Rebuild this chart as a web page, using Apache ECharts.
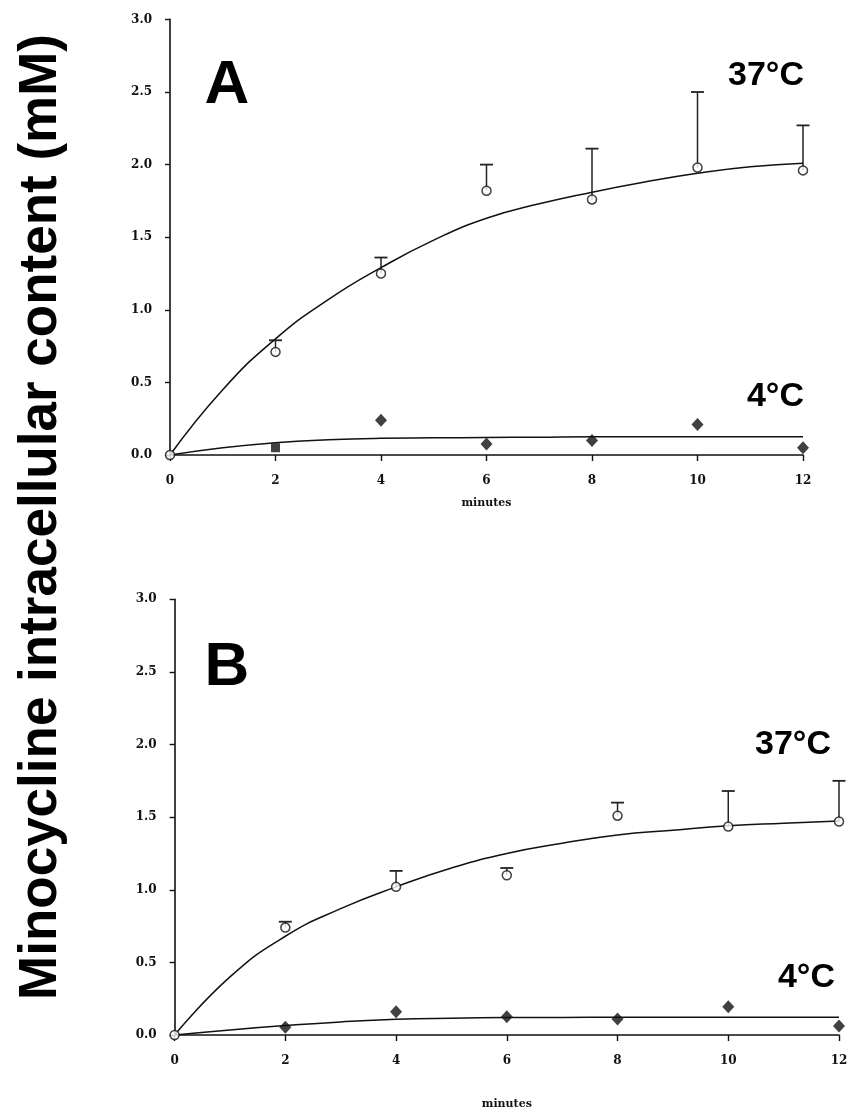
<!DOCTYPE html>
<html>
<head>
<meta charset="utf-8">
<script src="https://cdn.jsdelivr.net/npm/echarts@6/dist/echarts.min.js"></script>
<style>
html,body{margin:0;padding:0;background:#fff;}
#chart{width:853px;height:1116px;}
</style>
</head>
<body>
<div id="chart"></div>
<script>
// ---- data ----
const minutes = [0, 2, 4, 6, 8, 10, 12];
const yTicks = [0, 0.5, 1.0, 1.5, 2.0, 2.5, 3.0];

// Panel A, 37 °C (mean and mean+SD)
const a37Mean  = [0, 0.71, 1.25, 1.82, 1.76, 1.98, 1.96];
const a37Upper = [null, 0.79, 1.36, 2.00, 2.11, 2.50, 2.27];
// Panel A, 4 °C
const a4Mean   = [null, 0.05, 0.24, 0.075, 0.10, 0.21, 0.05];

// Panel B, 37 °C
const b37Mean  = [0, 0.74, 1.02, 1.10, 1.51, 1.435, 1.47];
const b37Upper = [null, 0.78, 1.13, 1.15, 1.60, 1.68, 1.75];
// Panel B, 4 °C
const b4Mean   = [null, 0.053, 0.16, 0.126, 0.11, 0.195, 0.062];

// fitted curves (one reading per minute)
const fitT   = [0, 1, 2, 3, 4, 5, 6, 7, 8, 9, 10, 11, 12];
const a37Fit = [0, 0.45, 0.80, 1.07, 1.29, 1.48, 1.63, 1.73, 1.81, 1.88, 1.94, 1.985, 2.01];
const b37Fit = [0, 0.40, 0.68, 0.87, 1.02, 1.15, 1.25, 1.32, 1.377, 1.41, 1.44, 1.458, 1.474];
const a4Fit  = [0, 0.05, 0.085, 0.105, 0.115, 0.118, 0.12, 0.123, 0.126, 0.126, 0.126, 0.126, 0.126];
const b4Fit  = [0, 0.035, 0.065, 0.09, 0.108, 0.116, 0.12, 0.121, 0.122, 0.122, 0.122, 0.122, 0.122];

const panelLabels = ['A', 'B'];
const tempLabels = ['37°C', '4°C'];
const xName = 'minutes';
const yTitle = 'Minocycline intracellular content (mM)';

// ---- build ----
const pairs = (xs, ys) => xs.map((x, i) => [x, ys[i]]).filter(p => p[1] != null);
const errData = (xs, m, u) => xs.map((x, i) => [x, m[i], u[i]]).filter(p => p[2] != null);

const INK = '#111';
const tickFont = { fontFamily: 'DejaVu Serif', fontWeight: 'bold', fontSize: 12, color: INK };

function xAx(gi, margin, nameGap) {
  return {
    type: 'value', gridIndex: gi, min: 0, max: 12, interval: 2,
    axisLine: { lineStyle: { color: INK, width: 1.6 } },
    axisTick: { show: true, inside: false, length: 6, lineStyle: { color: INK, width: 1.4 } },
    axisLabel: Object.assign({ margin: margin }, tickFont),
    splitLine: { show: false },
    name: xName, nameLocation: 'middle', nameGap: nameGap,
    nameTextStyle: { fontFamily: 'DejaVu Serif', fontWeight: 'bold', fontSize: 11, color: INK }
  };
}
function yAx(gi) {
  return {
    type: 'value', gridIndex: gi, min: 0, max: 3, interval: 0.5,
    axisLine: { show: true, lineStyle: { color: INK, width: 1.6 } },
    axisTick: { show: true, inside: false, length: 5, lineStyle: { color: INK, width: 1.4 } },
    axisLabel: Object.assign({ margin: 18, formatter: v => v.toFixed(1) }, tickFont),
    splitLine: { show: false }
  };
}

function errSeries(idx, data) {
  return {
    type: 'custom', xAxisIndex: idx, yAxisIndex: idx, z: 2,
    data: data,
    encode: { x: 0, y: [1, 2] },
    renderItem: function (params, api) {
      const x = api.value(0);
      const p0 = api.coord([x, api.value(1)]);
      const p1 = api.coord([x, api.value(2)]);
      const half = 6.5;
      return {
        type: 'group',
        children: [
          { type: 'line', shape: { x1: p0[0], y1: p0[1], x2: p1[0], y2: p1[1] }, style: { stroke: '#222', lineWidth: 1.5 } },
          { type: 'line', shape: { x1: p1[0] - half, y1: p1[1], x2: p1[0] + half, y2: p1[1] }, style: { stroke: '#222', lineWidth: 1.8 } }
        ]
      };
    }
  };
}
function fitSeries(idx, xs, ys) {
  return {
    type: 'line', xAxisIndex: idx, yAxisIndex: idx, z: 3,
    data: pairs(xs, ys), showSymbol: false, symbol: 'none',
    smooth: 0.5,
    lineStyle: { color: INK, width: 1.5 }, silent: true
  };
}
function openSeries(idx, data) {
  return {
    type: 'scatter', xAxisIndex: idx, yAxisIndex: idx, z: 5,
    data: data, symbol: 'circle', symbolSize: 9,
    itemStyle: { color: '#fff', borderColor: INK, borderWidth: 1.5 }
  };
}
function filledSeries(idx, data, squareAt) {
  return {
    type: 'scatter', xAxisIndex: idx, yAxisIndex: idx, z: 5,
    data: data.map(p => p[0] === squareAt ? { value: p, symbol: 'rect', symbolSize: 9 } : p),
    symbol: 'diamond', symbolSize: [12, 13],
    itemStyle: { color: INK }
  };
}

const big = { fontFamily: 'Liberation Sans', fontWeight: 'bold', fill: '#000' };

const option = {
  backgroundColor: '#fff',
  animation: false,
  grid: [
    { left: 170, top: 19.4, width: 633, height: 435.6 },
    { left: 174.6, top: 599.3, width: 664.4, height: 435.7 }
  ],
  xAxis: [xAx(0, 20, 43), xAx(1, 20, 64)],
  yAxis: [yAx(0), yAx(1)],
  series: [
    errSeries(0, errData(minutes, a37Mean, a37Upper)),
    fitSeries(0, fitT, a37Fit),
    fitSeries(0, fitT, a4Fit),
    openSeries(0, pairs(minutes, a37Mean)),
    filledSeries(0, pairs(minutes, a4Mean), 2),
    errSeries(1, errData(minutes, b37Mean, b37Upper)),
    fitSeries(1, fitT, b37Fit),
    fitSeries(1, fitT, b4Fit),
    openSeries(1, pairs(minutes, b37Mean)),
    filledSeries(1, pairs(minutes, b4Mean), null)
  ],
  graphic: [
    { type: 'text', x: 41, y: 517, rotation: Math.PI / 2,
      style: Object.assign({ text: yTitle, fontSize: 53, textAlign: 'center', textVerticalAlign: 'middle' }, big) },
    { type: 'text', x: 227, y: 86, style: Object.assign({ text: panelLabels[0], fontSize: 62, textAlign: 'center', textVerticalAlign: 'middle' }, big) },
    { type: 'text', x: 227, y: 668, style: Object.assign({ text: panelLabels[1], fontSize: 62, textAlign: 'center', textVerticalAlign: 'middle' }, big) },
    { type: 'text', x: 804, y: 76, style: Object.assign({ text: tempLabels[0], fontSize: 34, textAlign: 'right', textVerticalAlign: 'middle' }, big) },
    { type: 'text', x: 804, y: 397, style: Object.assign({ text: tempLabels[1], fontSize: 34, textAlign: 'right', textVerticalAlign: 'middle' }, big) },
    { type: 'text', x: 831, y: 745, style: Object.assign({ text: tempLabels[0], fontSize: 34, textAlign: 'right', textVerticalAlign: 'middle' }, big) },
    { type: 'text', x: 835, y: 978, style: Object.assign({ text: tempLabels[1], fontSize: 34, textAlign: 'right', textVerticalAlign: 'middle' }, big) }
  ]
};

const chart = echarts.init(document.getElementById('chart'), null, { renderer: 'canvas' });
chart.setOption(option);
</script>
</body>
</html>
